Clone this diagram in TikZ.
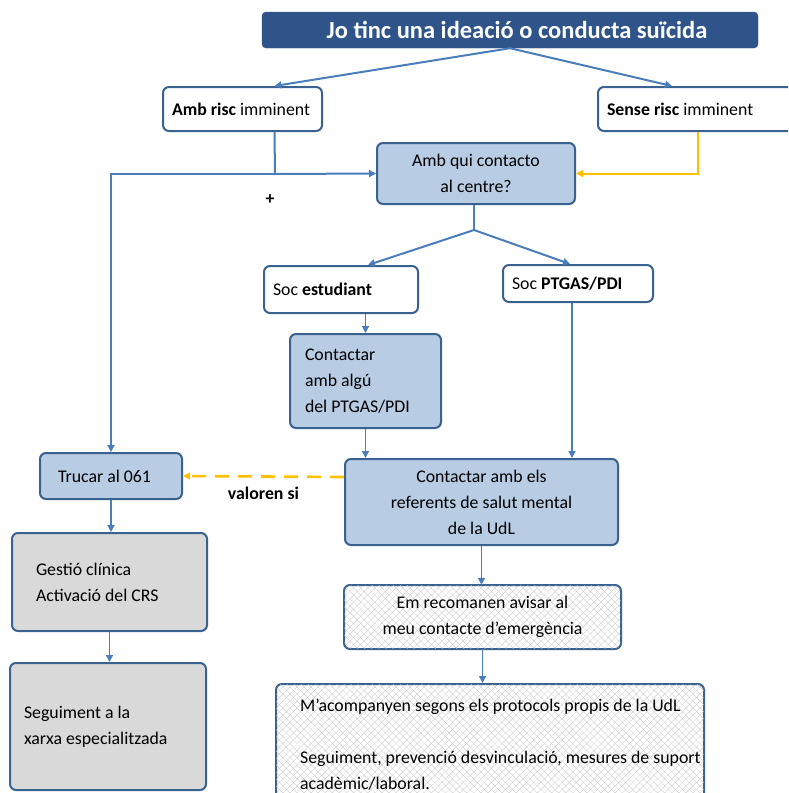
\documentclass[tikz,border=0pt]{standalone}
\usepackage{fontspec}
\setmainfont{Carlito}
\usepackage{tikz}
\usetikzlibrary{arrows.meta, positioning, patterns.meta}
\definecolor{navy}{RGB}{47,84,138}
\definecolor{edge}{RGB}{58,98,145}
\definecolor{link}{RGB}{74,126,187}
\definecolor{pale}{RGB}{184,204,228}
\definecolor{stone}{RGB}{217,217,217}
\definecolor{amber}{RGB}{255,192,0}

\begin{document}
\begin{tikzpicture}[
    x=1pt, y=-1pt,
    font=\fontsize{17.8}{26}\selectfont,
    title/.style={rectangle, rounded corners=4pt, fill=navy, draw=navy,
                  text=white, font=\fontsize{24.5}{28}\selectfont\bfseries,
                  minimum width=496pt, minimum height=36pt},
    wbox/.style={rectangle, rounded corners=6pt, draw=edge, line width=2pt,
                 fill=white, inner xsep=9pt, inner ysep=0pt, align=flush left},
    bbox/.style={wbox, fill=pale},
    gbox/.style={wbox, fill=stone},
    hbox/.style={wbox, fill=white,
                 pattern={Lines[angle=45, distance=5pt, line width=0.3pt]},
                 pattern color=gray!45,
                 postaction={pattern={Lines[angle=-45, distance=5pt, line width=0.3pt]},
                             pattern color=gray!45}},
    arr/.style={-{Triangle[length=7pt, width=7pt]}, line width=2pt, draw=link},
    yarr/.style={arr, draw=amber, -{Triangle[length=7pt, width=7pt]}},
  ]
    \clip (0,0) rectangle (788,793);

    % Top layer
    \node[title] (idea) at (510,30) {\hspace*{14pt}Jo tinc una ideació o conducta suïcida};
    \node[wbox, text width=141pt, minimum height=44pt] (risc) at (242.5,109)
        {\textbf{Amb risc} imminent};
    \node[wbox, text width=182pt, minimum height=44pt] (sense) at (698,109)
        {\textbf{Sense risc} imminent};

    \draw[arr] (idea.south) -- ([xshift=32pt]risc.north);
    \draw[arr] (idea.south) -- ([xshift=-26pt]sense.north);

    % Who to contact
    \node[bbox, align=center, minimum width=198pt, minimum height=61pt] (qui) at (476,173.5)
        {Amb qui contacto\\al centre?};
    \coordinate (split) at (275,174);
    \draw[arr] ([xshift=32pt]risc.south) -- (split) -- (qui.west);
    \draw[yarr] (sense.south) |- (qui.east);
    \node[font=\fontsize{17.8}{20}\selectfont\bfseries] (plus) at (270,200) {+};

    \node[wbox, text width=136pt, minimum height=47pt] (estud) at (341,289.5)
        {Soc \textbf{estudiant}};
    \node[wbox, text width=132pt, minimum height=37pt] (ptgas) at (578,283.5)
        {Soc \textbf{PTGAS/PDI}};
    \coordinate (fork) at (474,230);
    \draw[line width=2pt, draw=link] (qui.south -| fork) -- (fork);
    \draw[arr] (fork) -- ([xshift=27pt]estud.north);
    \draw[arr] (fork) -- ([xshift=-8pt]ptgas.north);

    \node[bbox, inner xsep=15pt, text width=121pt, minimum height=94pt] (algu) at (365.5,381)
        {Contactar\\amb algú\\del PTGAS/PDI};
    \draw[arr, line width=1.5pt] (estud.south -| algu.north) -- (algu.north);

    \node[bbox, align=center, minimum width=273pt, minimum height=86pt] (refs) at (481.5,502)
        {Contactar amb els\\referents de salut mental\\de la UdL};
    \draw[arr, line width=1.5pt] (algu.south) -- (algu.south |- refs.north);
    \draw[arr, line width=1.5pt] ([xshift=-6pt]ptgas.south) -- ([xshift=-6pt]ptgas.south |- refs.north);

    % Emergency path
    \node[bbox, inner xsep=18pt, text width=106pt, minimum height=46pt] (trucar) at (111,476)
        {Trucar al 061};
    \draw[arr] (split) -| (trucar.north);
    \draw[yarr, dashed, dash pattern=on 14pt off 9pt, line width=2.6pt]
        ([yshift=25pt]refs.west) -- node[below=6pt, text=black, font=\fontsize{17.8}{20}\selectfont\bfseries]{valoren si} (trucar.east);

    \node[gbox, inner xsep=24pt, text width=147pt, minimum height=98pt] (gestio) at (109.5,582)
        {Gestió clínica\\Activació del CRS};
    \node[gbox, inner xsep=14pt, text width=168pt, minimum height=127pt] (segui) at (108,726.5)
        {Seguiment a la\\xarxa especialitzada};
    \draw[arr, line width=1.5pt] (trucar.south) -- (trucar.south |- gestio.north);
    \draw[arr, line width=1.5pt] (gestio.south) -- (gestio.south |- segui.north);

    % Follow-up at the UdL
    \node[hbox, align=center, minimum width=277pt, minimum height=64pt] (recom) at (482.5,617)
        {Em recomanen avisar al\\meu contacte d’emergència};
    \node[hbox, minimum width=428pt, minimum height=120pt] (acomp) at (490,744) {};
    \node[anchor=north west, inner sep=0pt, align=flush left] (acomptext) at (300,699)
        {M’acompanyen segons els protocols propis de la UdL\\[26pt]
         Seguiment, prevenció desvinculació, mesures de suport\\acadèmic/laboral.};
    \draw[arr, line width=1.5pt] (refs.south) -- (refs.south |- recom.north);
    \draw[arr, line width=1.5pt] (recom.south) -- (recom.south |- acomp.north);
\end{tikzpicture}
\end{document}
